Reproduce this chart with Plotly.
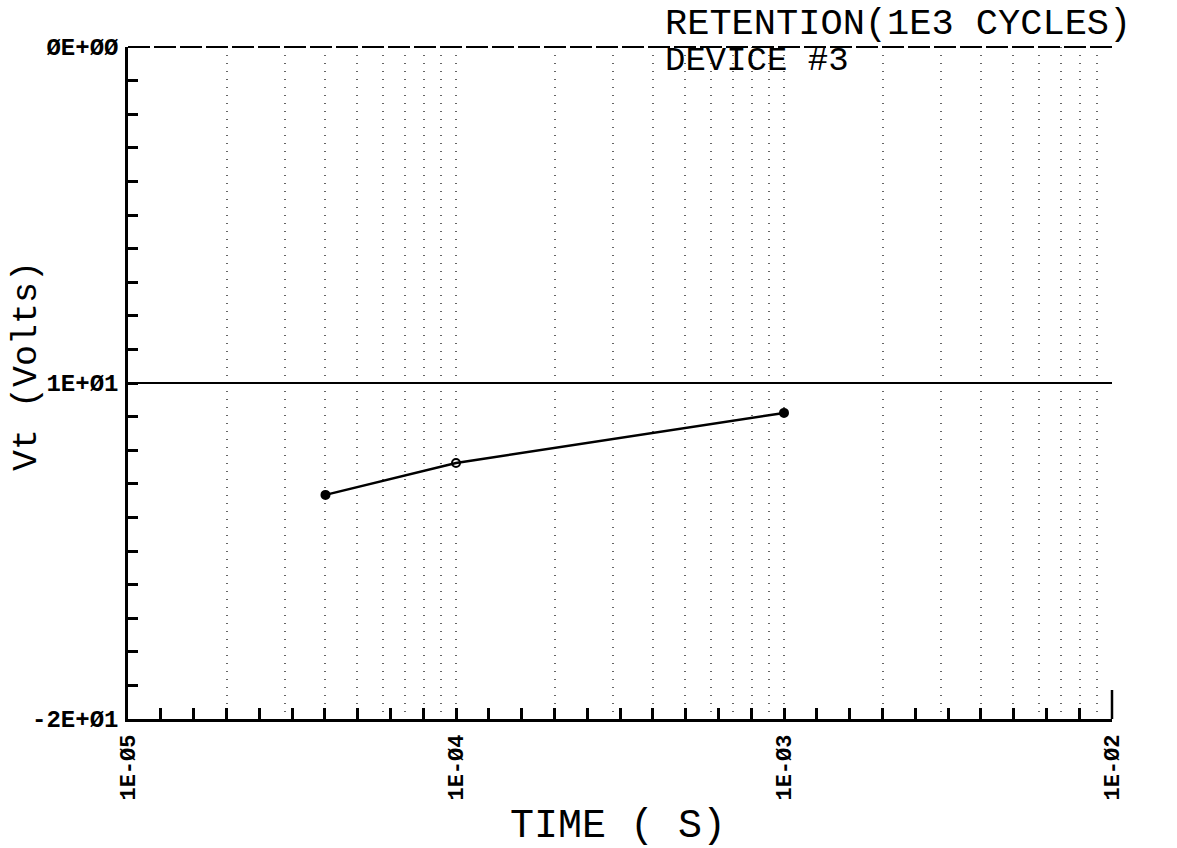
import plotly.graph_objects as go

# Retention measurement for device #3 after 1E3 program/erase cycles
time_s = [4e-5, 1e-4, 1e-3]
vt_volts = [-13.33, -12.38, -10.89]
marker_symbols = ["circle", "circle-open", "circle"]

# Axis ticks and labels (plotter style slashed zeros)
x_decades = [1e-5, 1e-4, 1e-3, 1e-2]
x_decade_labels = ["1E-Ø5", "1E-Ø4", "1E-Ø3", "1E-Ø2"]
y_ticks = [0, -10, -20]
y_tick_labels = ["ØE+ØØ", "1E+Ø1", "-2E+Ø1"]
ref_level = -10

# dotted verticals at every 1..9 multiple inside the decades
grid_vals = []
grid_text = []
for d in x_decades[:-1]:
    for k in range(1, 10):
        grid_vals.append(k * d)
        grid_text.append(x_decade_labels[x_decades.index(d)] if k == 1 else "")
grid_vals.append(x_decades[-1])
grid_text.append(x_decade_labels[-1])

FONT = "Liberation Mono"
W, H = 1177, 848
L, R, T, B = 128, 65, 47, 129
pw, ph = W - L - R, H - T - B


def px(x):
    return (x - L) / pw


def py(y):
    return (H - B - y) / ph


fig = go.Figure()

fig.add_trace(go.Scatter(
    x=time_s, y=vt_volts, mode="lines+markers",
    line=dict(color="black", width=2.5),
    marker=dict(symbol=marker_symbols, size=8, color="black",
                line=dict(color="black", width=2)),
    showlegend=False, hoverinfo="skip",
))
# carrier for the evenly spaced bottom tick marks
fig.add_trace(go.Scatter(x=[], y=[], xaxis="x2", yaxis="y",
                         showlegend=False, hoverinfo="skip"))

fig.update_layout(
    width=W, height=H,
    margin=dict(l=L, r=R, t=T, b=B),
    paper_bgcolor="white", plot_bgcolor="white",
    xaxis=dict(
        type="log", range=[-5, -2],
        tickvals=grid_vals, ticktext=grid_text,
        tickangle=-90, ticks="",
        tickfont=dict(family=FONT, size=22, color="black", weight="bold"),
        ticklabelstandoff=4,
        showgrid=True, gridcolor="#666666", gridwidth=1.5, griddash="1px,7px",
        showline=True, linecolor="black", linewidth=2.5,
        zeroline=False,
    ),
    xaxis2=dict(
        overlaying="x", anchor="y", side="bottom",
        range=[-5, -2], tick0=-5, dtick=0.1,
        ticks="inside", ticklen=11, tickwidth=2.5, tickcolor="black",
        showticklabels=False, showgrid=False, showline=False, zeroline=False,
    ),
    yaxis=dict(
        range=[-20, 0],
        tickvals=y_ticks, ticktext=y_tick_labels,
        ticks="inside", ticklen=10, tickwidth=2.5, tickcolor="black",
        tickfont=dict(family=FONT, size=24, color="black", weight="bold"),
        ticklabelstandoff=2,
        minor=dict(dtick=1, ticks="inside", ticklen=10, tickwidth=2.5,
                   tickcolor="black", showgrid=False),
        showgrid=False, zeroline=False,
        showline=True, linecolor="black", linewidth=2.5,
    ),
    shapes=[
        # dashed top frame
        dict(type="line", xref="paper", yref="paper", x0=0, x1=1, y0=1, y1=1,
             line=dict(color="black", width=2, dash="22px,4px")),
        # reference level line
        dict(type="line", xref="paper", yref="y", x0=0, x1=1,
             y0=ref_level, y1=ref_level,
             line=dict(color="black", width=2)),
        # short right-hand end mark
        dict(type="line", xref="paper", yref="paper", x0=1, x1=1,
             y0=0, y1=29 / ph, line=dict(color="black", width=2.5)),
    ],
    annotations=[
        dict(text="RETENTION(1E3 CYCLES)", xref="paper", yref="paper",
             x=px(663), y=py(1), xanchor="left", yanchor="top",
             showarrow=False,
             font=dict(family=FONT, size=37, color="black")),
        dict(text="DEVICE #3", xref="paper", yref="paper",
             x=px(663), y=py(61), xanchor="left", yanchor="middle",
             showarrow=False,
             font=dict(family=FONT, size=34, color="black")),
        dict(text="TIME ( S)", xref="paper", yref="paper",
             x=px(618), y=py(826), xanchor="center", yanchor="middle",
             showarrow=False,
             font=dict(family=FONT, size=40, color="black")),
        dict(text="Vt (Volts)", xref="paper", yref="paper",
             x=px(27), y=py(366), xanchor="center", yanchor="middle",
             textangle=-90, showarrow=False,
             font=dict(family=FONT, size=35, color="black")),
    ],
)

fig.write_html("out.html")
